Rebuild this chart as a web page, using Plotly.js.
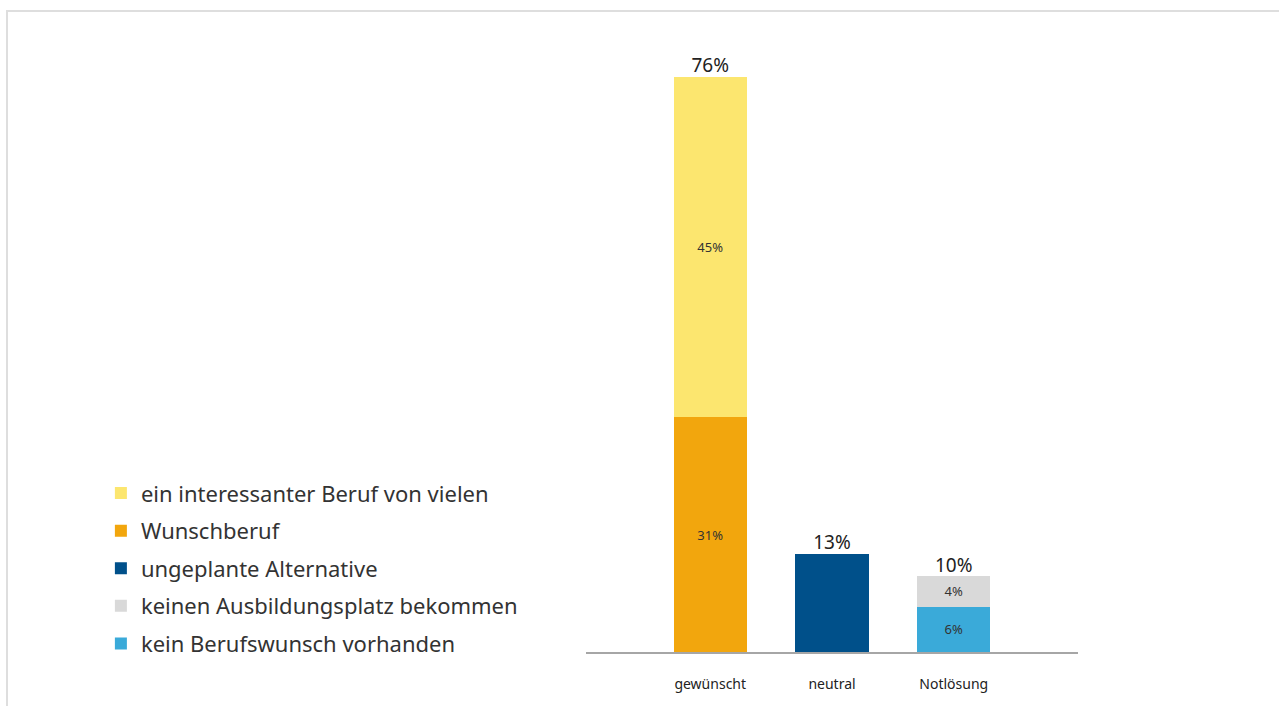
<!DOCTYPE html>
<html>
<head>
<meta charset="utf-8">
<script src="https://cdn.plot.ly/plotly-3.0.1.min.js"></script>
<style>
  html, body { margin: 0; padding: 0; background: #fff; }
  #wrap { position: relative; width: 1279px; height: 706px; overflow: hidden; }
  #frame { position: absolute; left: 6px; top: 10px; width: 1300px; height: 800px;
           border-top: 2px solid #dedede; border-left: 2px solid #dedede; }
  #chart { position: absolute; left: 0; top: 0; width: 1279px; height: 706px; }
</style>
</head>
<body>
<div id="wrap">
  <div id="frame"></div>
  <div id="chart"></div>
</div>
<script>
const categories = ["gewünscht", "neutral", "Notlösung"];

const wunschberuf      = [31, null, null];
const interessant      = [45, null, null];
const ungeplant        = [null, 13, null];
const keinBerufswunsch = [null, null, 6];
const keinPlatz        = [null, null, 4];

const totals = [76, 13, 10];

const names = {
  interessant: "ein interessanter Beruf von vielen",
  wunsch: "Wunschberuf",
  ungeplant: "ungeplante Alternative",
  keinPlatz: "keinen Ausbildungsplatz bekommen",
  keinWunsch: "kein Berufswunsch vorhanden"
};

const colors = {
  interessant: "#fce66f",
  wunsch: "#f2a60d",
  ungeplant: "#00508a",
  keinPlatz: "#d9d9d9",
  keinWunsch: "#3aaad9"
};

function pct(arr) { return arr.map(v => v == null ? "" : v + "%"); }

function barTrace(vals, name, color, rank, showText) {
  return {
    type: "bar",
    x: categories,
    y: vals,
    name: name,
    legendgroup: "g" + rank,
    legendrank: rank,
    marker: { color: color, line: { width: 0 } },
    text: showText ? pct(vals) : undefined,
    textposition: showText ? "inside" : "none",
    insidetextanchor: "middle",
    textfont: { family: "Noto Sans, sans-serif", size: 13, color: "#333333" },
    hoverinfo: "name+y"
  };
}

const data = [
  barTrace(wunschberuf, names.wunsch, colors.wunsch, 2, true),
  barTrace(interessant, names.interessant, colors.interessant, 1, true),
  barTrace(ungeplant, names.ungeplant, colors.ungeplant, 3, false),
  barTrace(keinBerufswunsch, names.keinWunsch, colors.keinWunsch, 5, true),
  barTrace(keinPlatz, names.keinPlatz, colors.keinPlatz, 4, true),
  {
    type: "scatter",
    mode: "text",
    x: categories,
    y: totals,
    text: pct(totals),
    textposition: "top center",
    textfont: { family: "Noto Sans, sans-serif", size: 19, color: "#222222" },
    showlegend: false,
    hoverinfo: "skip"
  }
];

const layout = {
  width: 1279,
  height: 706,
  margin: { l: 586, r: 201, t: 30, b: 54 },
  paper_bgcolor: "rgba(0,0,0,0)",
  plot_bgcolor: "rgba(0,0,0,0)",
  barmode: "stack",
  bargap: 0.4,
  showlegend: true,
  legend: {
    traceorder: "grouped",
    tracegroupgap: 6,
    x: -0.986,
    xanchor: "left",
    y: 0.289,
    yanchor: "top",
    font: { family: "Noto Sans, sans-serif", size: 22, color: "#333333" },
    itemwidth: 30,
    bgcolor: "rgba(0,0,0,0)"
  },
  xaxis: {
    type: "category",
    range: [-1.02, 3.02],
    showline: true,
    linecolor: "#a6a6a6",
    linewidth: 2,
    showgrid: false,
    zeroline: false,
    ticks: "",
    ticklabelstandoff: 18,
    tickfont: { family: "Noto Sans, sans-serif", size: 14, color: "#222222" },
    fixedrange: true
  },
  yaxis: {
    range: [0, 82.2],
    visible: false,
    showgrid: false,
    zeroline: false,
    fixedrange: true
  }
};

Plotly.newPlot("chart", data, layout, { displayModeBar: false, staticPlot: true });
</script>
</body>
</html>
